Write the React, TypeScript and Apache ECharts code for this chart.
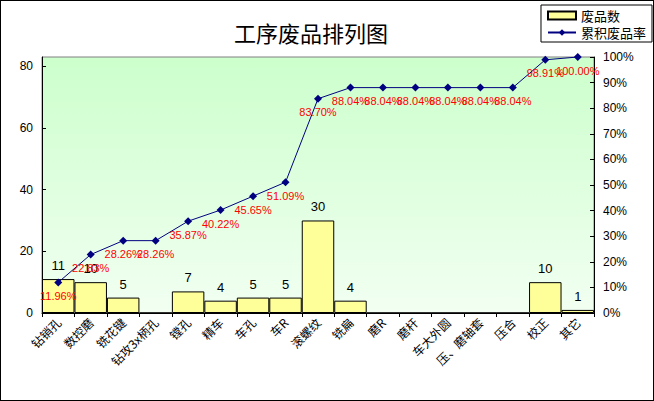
import React, { useEffect, useRef } from "react";
import * as echarts from "echarts";

const categories = ["钻销孔", "数控磨", "铣花键", "钻攻3x柄孔", "镗孔", "精车", "车孔", "车R", "滚螺纹", "铣扁", "磨R", "磨杆", "车大外圆", "压、磨轴套", "压合", "校正", "其它"];
const defectCounts = [11, 10, 5, 0, 7, 4, 5, 5, 30, 4, 0, 0, 0, 0, 0, 10, 1];
const cumulativeRate = [11.96, 22.83, 28.26, 28.26, 35.87, 40.22, 45.65, 51.09, 83.70, 88.04, 88.04, 88.04, 88.04, 88.04, 88.04, 98.91, 100.00];
const leftTicks = [0, 20, 40, 60, 80];

const FONT = "'Liberation Sans', Arial, 'Noto Sans CJK SC', sans-serif";

export default function App() {
  const ref = useRef<HTMLDivElement>(null);
  useEffect(() => {
    document.body.style.margin = "0";
    if (!ref.current) return;
    const chart = echarts.init(ref.current, null, { renderer: "svg" });
    chart.setOption({
      animation: false,
      backgroundColor: "#ffffff",
      textStyle: { fontFamily: FONT },
      title: {
        text: "工序废品排列图",
        left: 305,
        top: 15,
        textAlign: "center",
        textStyle: { fontSize: 22, fontWeight: "normal", color: "#000", fontFamily: "'Noto Sans CJK SC', sans-serif" },
      },
      legend: {
        orient: "vertical",
        right: 1,
        top: 4,
        backgroundColor: "#fff",
        borderColor: "#000",
        borderWidth: 1,
        borderRadius: 0,
        padding: [4, 6, 3, 6],
        itemGap: 4,
        itemWidth: 28,
        itemHeight: 8,
        textStyle: { fontSize: 13, color: "#000", fontFamily: "'Noto Sans CJK SC', sans-serif" },
        data: [
          { name: "废品数", icon: "rect" },
          { name: "累积废品率" },
        ],
      },
      grid: {
        left: 41,
        right: 59,
        top: 56,
        bottom: 87,
        show: true,
        borderColor: "#808080",
        borderWidth: 1,
        backgroundColor: new echarts.graphic.LinearGradient(0, 0, 0, 1, [
          { offset: 0, color: "#ccffcc" },
          { offset: 1, color: "#f2fff2" },
        ]),
      },
      xAxis: {
        type: "category",
        data: categories,
        boundaryGap: true,
        axisLine: { lineStyle: { color: "#000", width: 1 } },
        axisTick: { show: true, length: 4, lineStyle: { color: "#000" } },
        axisLabel: {
          rotate: 45,
          interval: 0,
          margin: 7,
          fontSize: 12,
          color: "#000",
          fontFamily: "'Noto Sans CJK SC', sans-serif",
        },
      },
      yAxis: [
        {
          type: "value",
          min: 0,
          max: 83,
          interval: 20,
          splitLine: { show: false },
          axisLine: { show: true, lineStyle: { color: "#000" } },
          axisTick: { show: true, inside: true, length: 4, lineStyle: { color: "#000" } },
          axisLabel: {
            fontSize: 12,
            color: "#000",
            margin: 9,
            showMaxLabel: false,
            formatter: (v: number) => (leftTicks.includes(v) ? String(v) : ""),
          },
        },
        {
          type: "value",
          min: 0,
          max: 100,
          interval: 10,
          splitLine: { show: false },
          axisLine: { show: true, lineStyle: { color: "#000" } },
          axisTick: { show: true, inside: true, length: 4, lineStyle: { color: "#000" } },
          axisLabel: { fontSize: 12, color: "#000", margin: 9, formatter: "{value}%" },
        },
      ],
      series: [
        {
          name: "废品数",
          type: "bar",
          data: defectCounts,
          barCategoryGap: "0%",
          itemStyle: { color: "#ffff99", borderColor: "#000", borderWidth: 1 },
          label: {
            show: true,
            position: "top",
            distance: 7,
            fontSize: 13,
            color: "#000",
            formatter: (p: any) => (p.value ? String(p.value) : ""),
          },
        },
        {
          name: "累积废品率",
          type: "line",
          yAxisIndex: 1,
          data: cumulativeRate,
          symbol: "diamond",
          symbolSize: 8,
          lineStyle: { color: "#000080", width: 1 },
          itemStyle: { color: "#000080" },
          label: {
            show: true,
            position: "bottom",
            distance: 4,
            fontSize: 11,
            color: "#ff0000",
            formatter: (p: any) => Number(p.value).toFixed(2) + "%",
          },
        },
      ],
    });
    return () => chart.dispose();
  }, []);
  return (
    <div style={{ width: 654, height: 401, boxSizing: "border-box", border: "1px solid #000", background: "#fff" }}>
      <div ref={ref} style={{ width: 652, height: 399 }} />
    </div>
  );
}
